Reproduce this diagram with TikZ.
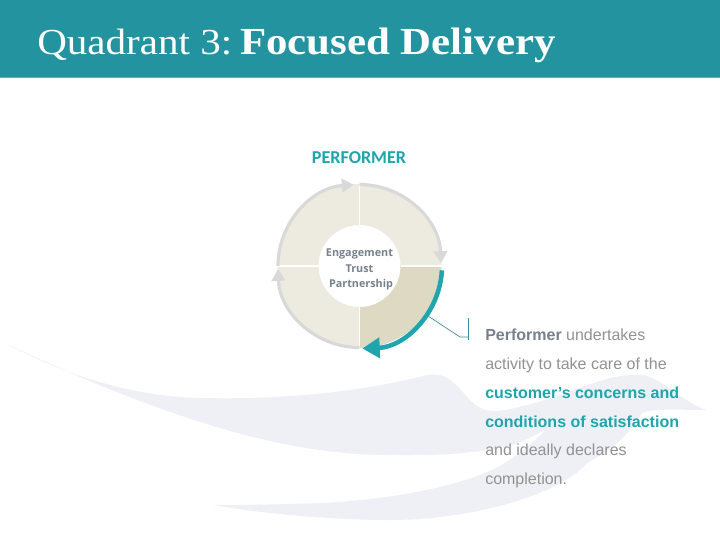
\documentclass[tikz,border=0pt]{standalone}
\usepackage{fontspec}
\setmainfont{Liberation Sans}
\newfontfamily\titlefont[FakeStretch=1.12]{Liberation Serif}
\newfontfamily\ringfont{Open Sans}
\newfontfamily\headfont{Carlito}
\usetikzlibrary{arrows.meta}
\definecolor{headerteal}{HTML}{23939F}
\definecolor{headeredge}{HTML}{5FB4BC}
\definecolor{swoosh}{HTML}{EFF0F5}
\definecolor{ringlight}{HTML}{EDEBE0}
\definecolor{ringdark}{HTML}{DDD9C3}
\definecolor{arcgray}{HTML}{D9D9D9}
\definecolor{accent}{HTML}{1FA5AD}
\definecolor{calloutline}{HTML}{3E8E9A}
\definecolor{slate}{HTML}{76818C}
\definecolor{bodygray}{HTML}{929292}
\tikzset{
  quadfill/.style={line width=30.75pt,draw=#1},
  grayarc/.style={draw=arcgray,line width=2.4pt,-{Triangle[length=9pt,width=10pt,fill=arcgray]}},
  tealarc/.style={draw=accent,line width=3.4pt,-{Triangle[length=13pt,width=15pt,fill=accent]}},
  bodyline/.style={anchor=base west,inner sep=0pt,font=\fontsize{12pt}{14pt}\selectfont,text=bodygray},
  accentline/.style={bodyline,text=accent,font=\bfseries\fontsize{12pt}{14pt}\selectfont},
  ringtext/.style={inner sep=0pt,text=slate,font=\ringfont\bfseries\fontsize{8.1pt}{11pt}\selectfont},
}
\begin{document}
\begin{tikzpicture}[x=0.75pt,y=-0.75pt]
\useasboundingbox (0,0) rectangle (720,540);
\fill[white] (0,0) rectangle (720,540);
% swoosh
\fill[swoosh] (9,345)
  .. controls (60,372) and (130,398) .. (206,398)
  .. controls (290,400) and (370,390) .. (427,375)
  .. controls (450,372) and (455,385) .. (472,402)
  .. controls (482,412) and (495,412) .. (505,410)
  .. controls (560,400) and (600,375) .. (633,375)
  .. controls (660,373) and (670,395) .. (706,410)
  .. controls (680,410) and (655,408) .. (642,413)
  .. controls (625,440) and (610,450) .. (587,463)
  .. controls (560,495) and (470,520) .. (390,520)
  .. controls (340,520) and (270,515) .. (213,505)
  .. controls (260,505) and (290,504) .. (321,503)
  .. controls (390,500) and (470,485) .. (505,463)
  .. controls (525,450) and (535,440) .. (546,430)
  .. controls (530,437) and (520,444) .. (505,447)
  .. controls (470,454) and (430,456) .. (390,455)
  .. controls (300,455) and (190,430) .. cycle;
% header
\fill[headerteal] (0,0) rectangle (720,77);
\fill[headeredge] (0,77) rectangle (720,78);
\node[anchor=base west,inner sep=0pt,text=white,font=\titlefont\fontsize{27.5pt}{30pt}\selectfont] (title) at (37,54) {Quadrant 3:\hspace{6pt}{\fontsize{28.7pt}{30pt}\selectfont\bfseries Focused Delivery}};
% ring
\begin{scope}[shift={(359.5,266)}]
  \draw[quadfill=ringlight] (180:61.5) arc (180:270:61.5);
  \draw[quadfill=ringlight] (270:61.5) arc (270:360:61.5);
  \draw[quadfill=ringlight] (90:61.5) arc (90:180:61.5);
  \draw[quadfill=ringdark] (0:61.5) arc (0:90:61.5);
  \draw[white,line width=0.8pt] (0,-82) -- (0,-41) (0,41) -- (0,82) (-82,0) -- (-41,0) (41,0) -- (82,0);
  \draw[grayarc] (180:81.5) arc (180:266:81.5);
  \draw[grayarc] (270:81.5) arc (270:358:81.5);
  \draw[grayarc] (90:81.5) arc (90:178:81.5);
  \draw[tealarc] (3:82.5) arc (3:88:82.5);
\end{scope}
\node[inner sep=0pt,text=accent,font=\headfont\bfseries\fontsize{13.6pt}{15pt}\selectfont] (performer) at (359,158) {PERFORMER};
\node[ringtext] (engage) at (359.5,254) {Engagement};
\node[ringtext] (trust) at (359.5,269) {Trust};
\node[ringtext] (partner) at (361,285) {Partnership};
% callout
\coordinate (ca) at (428,316);
\coordinate (cb) at (460,337);
\coordinate (cc) at (468,337);
\coordinate (ct) at (468,318);
\coordinate (cd) at (468,340);
\draw[calloutline,line width=0.5pt] (ca) -- (cb) -- (cc);
\draw[calloutline,line width=0.5pt] (ct) -- (cd);
% body text
\node[bodyline] (l1) at (485,340.5) {\textcolor{slate}{\bfseries Performer} undertakes};
\node[bodyline] (l2) at (485,369.5) {activity to take care of the};
\node[accentline] (l3) at (485,398) {customer’s concerns and};
\node[accentline] (l4) at (485,427) {conditions of satisfaction};
\node[bodyline] (l5) at (485,455) {and ideally declares};
\node[bodyline] (l6) at (485,484) {completion.};
\end{tikzpicture}
\end{document}
